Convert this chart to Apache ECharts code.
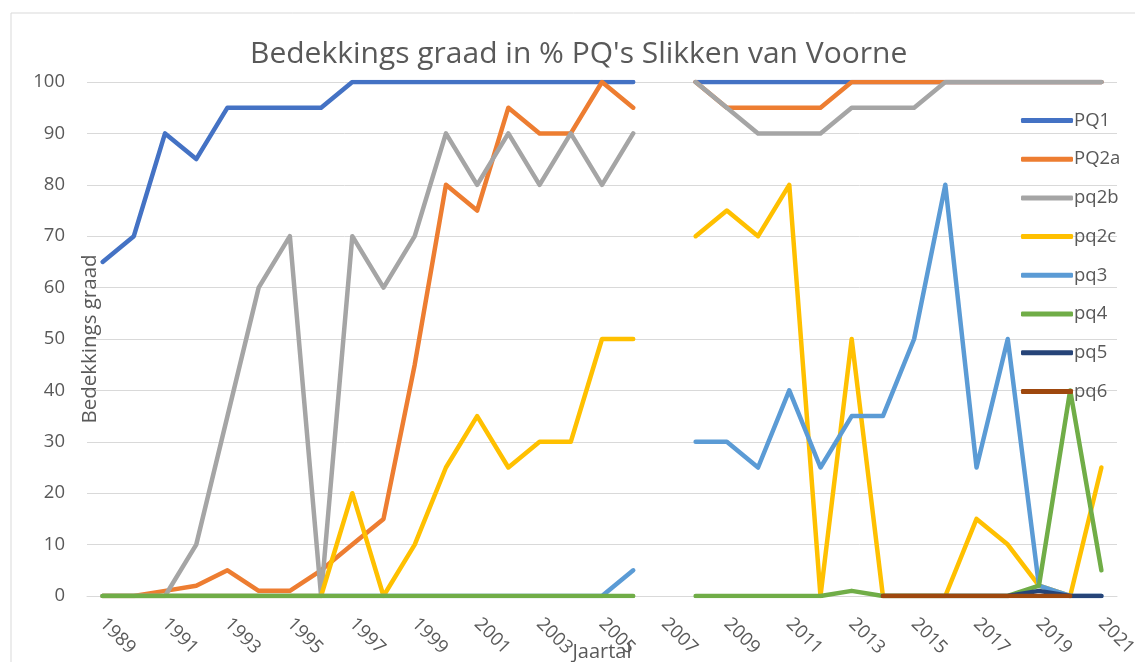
<!DOCTYPE html>
<html>
<head>
<meta charset="utf-8">
<script src="https://cdn.jsdelivr.net/npm/echarts@6/dist/echarts.min.js"></script>
<style>
html,body{margin:0;padding:0;background:#fff;}
#c{width:1135px;height:662px;}
</style>
</head>
<body>
<div id="c"></div>
<script>
var years = [];
for (var y = 1989; y <= 2021; y++) years.push(String(y));

var pq1  = [65,70,90,85,95,95,95,95,100,100,100,100,100,100,100,100,100,100,null,100,100,100,100,100,100,100,100,100,100,100,100,100,100];
var pq2a = [0,0,1,2,5,1,1,5,10,15,45,80,75,95,90,90,100,95,null,100,95,95,95,95,100,100,100,100,100,100,100,100,100];
var pq2b = [0,0,0,10,35,60,70,0,70,60,70,90,80,90,80,90,80,90,null,100,95,90,90,90,95,95,95,100,100,100,100,100,100];
var pq2c = [0,0,0,0,0,0,0,0,20,0,10,25,35,25,30,30,50,50,null,70,75,70,80,0,50,0,0,0,15,10,2,0,25];
var pq3  = [0,0,0,0,0,0,0,0,0,0,0,0,0,0,0,0,0,5,null,30,30,25,40,25,35,35,50,80,25,50,2,0,0];
var pq4  = [0,0,0,0,0,0,0,0,0,0,0,0,0,0,0,0,0,0,null,0,0,0,0,0,1,0,0,0,0,0,2,40,5];
var pq5  = [null,null,null,null,null,null,null,null,null,null,null,null,null,null,null,null,null,null,null,null,null,null,null,null,null,0,0,0,0,0,1,0,0];
var pq6  = [null,null,null,null,null,null,null,null,null,null,null,null,null,null,null,null,null,null,null,null,null,null,null,null,null,0,0,0,0,0,0,0,null];

var names  = ['PQ1','PQ2a','pq2b','pq2c','pq3','pq4','pq5','pq6'];
var values = [pq1,pq2a,pq2b,pq2c,pq3,pq4,pq5,pq6];
var colors = ['#4472C4','#ED7D31','#A5A5A5','#FFC000','#5B9BD5','#70AD47','#264478','#9E480E'];

var FONT = 'Open Sans';
var TXT = '#595959';

var series = names.map(function(n, i){
  return {
    name: n, type: 'line', data: values[i], symbol: 'none',
    connectNulls: false,
    lineStyle: {width: 4.5, color: colors[i], cap: 'round', join: 'round'},
    itemStyle: {color: colors[i]},
    emphasis: {disabled: true},
    animation: false
  };
});

var chart = echarts.init(document.getElementById('c'), null, {renderer: 'canvas'});
chart.setOption({
  animation: false,
  backgroundColor: '#fff',
  color: colors,
  graphic: [{
    type: 'rect', silent: true, z: -10,
    shape: {x: 11, y: 13, width: 1140, height: 670},
    style: {fill: 'none', stroke: '#D9D9D9', lineWidth: 1}
  }],
  title: {
    text: "Bedekkings graad in % PQ's Slikken van Voorne",
    left: 245, top: 34,
    textStyle: {fontFamily: FONT, fontSize: 30, fontWeight: 'normal', color: TXT}
  },
  legend: {
    orient: 'vertical', left: 1016, top: 105,
    icon: 'roundRect', itemWidth: 52, itemHeight: 5, itemGap: 17.7,
    textStyle: {fontFamily: FONT, fontSize: 18.5, color: TXT, lineHeight: 21, padding: [0,0,0,-4]},
    data: names
  },
  grid: {left: 87, right: 18, top: 82, bottom: 66, containLabel: false, outerBoundsMode: 'none'},
  xAxis: {
    type: 'category', data: years, boundaryGap: true,
    name: 'Jaartal', nameLocation: 'middle', nameGap: 46, nameMoveOverlap: false,
    nameTextStyle: {fontFamily: FONT, fontSize: 20, color: TXT},
    axisLine: {show: true, lineStyle: {color: '#D9D9D9', width: 1}},
    axisTick: {show: false},
    axisLabel: {interval: 1, rotate: -45, margin: 25, fontFamily: FONT, fontSize: 18.5, color: TXT}
  },
  yAxis: {
    type: 'value', min: 0, max: 100, interval: 10,
    name: 'Bedekkings graad', nameLocation: 'middle', nameGap: -14, nameRotate: 90, nameMoveOverlap: false,
    nameTextStyle: {fontFamily: FONT, fontSize: 20.5, color: TXT},
    axisLine: {show: false}, axisTick: {show: false},
    splitLine: {lineStyle: {color: '#D9D9D9', width: 1}},
    axisLabel: {margin: 22, fontFamily: FONT, fontSize: 18.5, color: TXT}
  },
  series: series
});
</script>
</body>
</html>
